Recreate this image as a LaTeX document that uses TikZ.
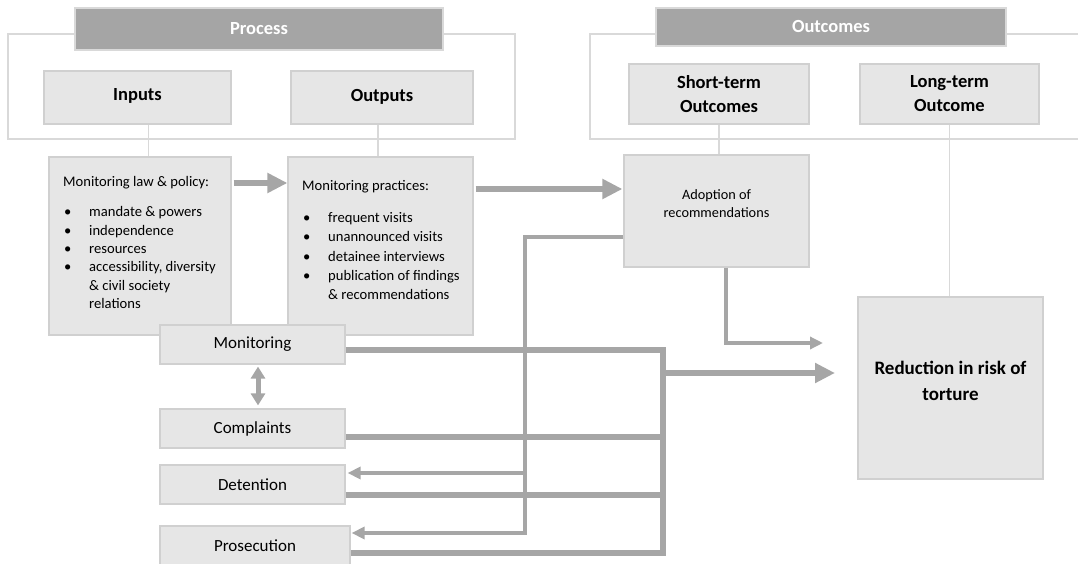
\documentclass[tikz,border=0pt]{standalone}
\usepackage{fontspec}
\setmainfont{Carlito}
\usetikzlibrary{arrows.meta,calc}
\definecolor{hdr}{HTML}{A5A5A5}
\definecolor{boxfill}{HTML}{E6E6E6}
\definecolor{boxline}{HTML}{D0D0D0}
\definecolor{frameline}{HTML}{D9D9D9}
\definecolor{arr}{HTML}{A6A6A6}
\newcommand\mybul{\makebox[26pt][l]{\hspace{1pt}\textbullet}}
\newcommand\myind{\hspace*{26pt}}
\begin{document}
\begin{tikzpicture}[x=1pt,y=-1pt,
  frame/.style={draw=frameline,line width=1.5pt},
  header/.style={draw=frameline,line width=1.2pt,fill=hdr,text=white,font=\fontsize{18.5}{22}\selectfont\bfseries,inner sep=0pt},
  hbox/.style={draw=boxline,line width=1.2pt,fill=boxfill,font=\fontsize{18.5}{24}\selectfont\bfseries,align=center,inner sep=0pt},
  cbox/.style={draw=boxline,line width=1.2pt,fill=boxfill,inner sep=0pt},
  body/.style={font=\fontsize{14.6}{18.3}\selectfont,align=left,inner sep=0pt,anchor=north west},
  lbl/.style={font=\fontsize{17}{20}\selectfont,inner sep=0pt},
  bigtext/.style={font=\fontsize{19}{26}\selectfont\bfseries,align=center,inner sep=0pt},
  thinline/.style={draw=frameline,line width=1.2pt},
  bigarrow/.style={draw=arr,line width=6.5pt,-{Triangle[length=20pt,width=19pt]}},
  midarrow/.style={draw=arr,line width=4.5pt,-{Triangle[length=13pt,width=12pt]}},
  busline/.style={draw=arr,line width=6pt,line join=miter},
  dblarrow/.style={draw=arr,line width=5pt,{Triangle[length=12pt,width=14pt]}-{Triangle[length=12pt,width=14pt]}}
]
\useasboundingbox (0,0) rectangle (1078,564);
\fill[white] (0,0) rectangle (1078,564);

% frames
\draw[frame] (8,34) rectangle (515,139);
\draw[frame] (1080,34) -- (590,34) -- (590,139) -- (1080,139);

% headers
\node[header,minimum width=368pt,minimum height=42pt] (process) at (259,29) {Process};
\node[header,minimum width=350pt,minimum height=38pt] (outcomes) at (831,27) {Outcomes};

% column heads
\node[hbox,minimum width=187pt,minimum height=53pt] (inputs) at (137.5,97.5) {\raisebox{5pt}{Inputs}};
\node[hbox,minimum width=182pt,minimum height=53pt] (outputs) at (382,97.5) {\raisebox{5pt}{Outputs}};
\node[hbox,minimum width=180pt,minimum height=60pt] (short) at (719,94) {Short-term\\Outcomes};
\node[hbox,minimum width=179pt,minimum height=60pt] (long) at (949.5,94) {Long-term\\Outcome};

% content boxes
\node[cbox,minimum width=182pt,minimum height=178pt] (law) at (140,246) {};
\node[cbox,minimum width=185pt,minimum height=178pt] (practices) at (380.5,246) {};
\node[cbox,minimum width=185pt,minimum height=112pt] (adoption) at (716.5,211) {};
\node[cbox,minimum width=185pt,minimum height=182pt] (reduction) at (950.5,388) {};

\node[body] (lawtext) at (63,176.5) {Monitoring law \& policy:\\[11.7pt]
\mybul mandate \& powers\\
\mybul independence\\
\mybul resources\\
\mybul accessibility, diversity\\
\myind\& civil society\\
\myind relations};

\node[body,font=\fontsize{14.6}{19.2}\selectfont] (practext) at (302,180.5) {Monitoring practices:\\[12.8pt]
\mybul frequent visits\\
\mybul unannounced visits\\
\mybul detainee interviews\\
\mybul publication of findings\\
\myind\& recommendations};

\node[font=\fontsize{14.3}{18}\selectfont,align=center,inner sep=0pt] (adopttext) at (716.5,204) {Adoption of\\recommendations};
\node[bigtext] (redtext) at (950.5,381) {Reduction in risk of\\torture};

% lower left boxes
\node[cbox,lbl,minimum width=185pt,minimum height=39pt] (monitoring) at (252.5,344.5) {Monitoring};
\node[cbox,lbl,minimum width=185pt,minimum height=39pt] (complaints) at (252.5,428.5) {Complaints};
\node[cbox,lbl,minimum width=185pt,minimum height=39pt] (detention) at (252.5,484.5) {Detention};
\node[cbox,lbl,minimum width=190pt,minimum height=40pt] (prosecution) at (255,546) {Prosecution};

% thin connectors from headings
\draw[thinline] ([xshift=11pt]inputs.south) -- ([xshift=11pt]inputs.south |- law.north);
\draw[thinline] ([xshift=-4pt]outputs.south) -- ([xshift=-4pt]outputs.south |- practices.north);
\draw[thinline] (short.south) -- (short.south |- adoption.north);
\draw[thinline] (long.south) -- (long.south |- reduction.north);

% coordinates
\coordinate (v1) at (525,237);
\coordinate (v2) at (525,473);
\coordinate (v3) at (525,533);
\coordinate (b1) at (663,350);
\coordinate (b2) at (663,373);
\coordinate (bc) at (663,437);
\coordinate (bd) at (663,495);
\coordinate (b4) at (663,553);
\coordinate (redin) at (835,373);
\coordinate (adoptin) at (823,343);

% arrows top
\draw[bigarrow] ([xshift=2pt,yshift=63pt]law.east) -- ([yshift=63pt]practices.west);
\draw[bigarrow] ([xshift=2pt,yshift=57pt]practices.east) -- ([xshift=-1pt,yshift=22pt]adoption.west);

% adoption feedback to detention / prosecution
\draw[midarrow] ([yshift=-26pt]adoption.west) -- (v1) -- (v3) -- ([xshift=1pt,yshift=13pt]prosecution.east);
\draw[midarrow] (v2) -- ([xshift=2pt,yshift=11.5pt]detention.east);

% adoption to reduction
\draw[midarrow] ([xshift=9.5pt]adoption.south) |- (adoptin);

% bus
\draw[busline] ([yshift=-5.5pt]monitoring.east) -- (b1) -- (b4) -- ([yshift=-7pt]prosecution.east);
\draw[busline] ([yshift=-8.5pt]complaints.east) -- (bc);
\draw[busline] ([yshift=-10.5pt]detention.east) -- (bd);
\draw[bigarrow] (b2) -- (redin);

% double arrow
\draw[dblarrow] ([xshift=5.5pt,yshift=-2pt]monitoring.south) -- ([xshift=5.5pt,yshift=3pt]complaints.north);
\end{tikzpicture}
\end{document}
